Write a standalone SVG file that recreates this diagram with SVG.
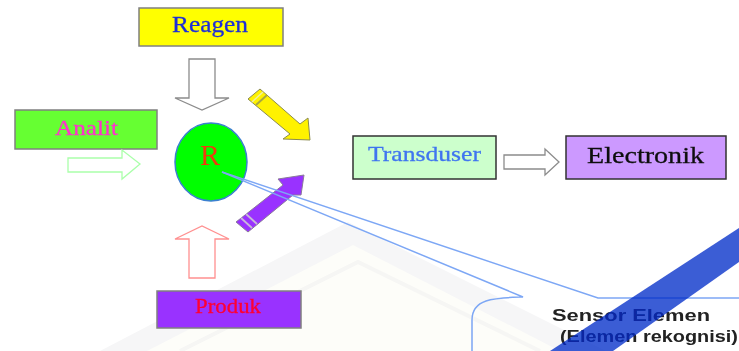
<svg xmlns="http://www.w3.org/2000/svg" width="739" height="351" viewBox="0 0 739 351">
<style>
text{font-family:"Liberation Serif","Times New Roman",serif;text-anchor:start;stroke-width:.3}
.box{stroke:#808080;stroke-width:1.5}
.arrow{fill:#fff;stroke-width:1.3;stroke-linejoin:miter}
.sans{font-family:"Liberation Sans",Arial,sans-serif;font-weight:bold;font-size:17px;fill:#222}
.call{fill:none;stroke:#7da7f5;stroke-width:1.5}
</style>
<defs><filter id="soft" x="-2%" y="-2%" width="104%" height="104%"><feGaussianBlur stdDeviation="0.45"/></filter></defs>
<rect width="739" height="351" fill="#fff"/>
<g id="watermark">
<path d="M100 351L348 222L620 358V351Z" fill="#f6f6f7"/>
<path d="M147 351L353 245L560 351Z" fill="#fdfdf9"/>
<path d="M180 351L358 262L540 351" fill="none" stroke="#f6f6f4" stroke-width="4"/>
</g>
<g filter="url(#soft)">
<g id="reagen"><rect class="box" x="139" y="8" width="144" height="38" fill="#ffff00"/><text x="172" y="32" font-size="23" textLength="76" lengthAdjust="spacingAndGlyphs" fill="#1f2fd8" stroke="#1f2fd8">Reagen</text></g>
<g id="analit"><rect class="box" x="15" y="110" width="142" height="39" fill="#66ff33"/><text x="55" y="135" font-size="21.5" textLength="63" lengthAdjust="spacingAndGlyphs" fill="#ff33cc" stroke="#ff33cc">Analit</text></g>
<g id="reseptor"><ellipse cx="211" cy="162" rx="36" ry="39" fill="#00ff00" stroke="#3a80d0" stroke-width="1.5"/><text x="200" y="165" font-size="30" fill="#ee3b10">R</text></g>
<g id="produk"><rect class="box" x="157" y="291" width="144" height="37" fill="#9933ff"/><text x="195" y="313" font-size="20" textLength="66" lengthAdjust="spacingAndGlyphs" fill="#ff0033" stroke="#ff0033">Produk</text></g>
<g id="transduser"><rect x="353" y="136" width="143" height="43" fill="#ccffcc" stroke="#333" stroke-width="1.5"/><text x="368" y="161" font-size="22" textLength="113" lengthAdjust="spacingAndGlyphs" fill="#3f74f0" stroke="#3f74f0">Transduser</text></g>
<g id="electronik"><rect x="566" y="136" width="160" height="43" fill="#cc99ff" stroke="#333" stroke-width="1.5"/><text x="587" y="163" font-size="24" textLength="117" lengthAdjust="spacingAndGlyphs" fill="#111" stroke="#111">Electronik</text></g>
<g id="connectors">
<path class="arrow" stroke="#8c8c8c" d="M189 59H215V98H229L202 110L175 98H189Z"/>
<path class="arrow" stroke="#aaffaa" d="M68 158H122V150L140 164L122 179V172H68Z"/>
<path class="arrow" stroke="#ff9090" d="M189 278H215V239H229L202 226L175 239H189Z"/>
<path class="arrow" stroke="#8c8c8c" d="M504 155H545V149L559 162L545 175V169H504Z"/>
<path fill="#fff200" stroke="#8a8a50" stroke-width="1" d="M310 140L308 118L300 124L260 89L248 99L290 134L283 139Z"/>
<path d="M252 102L263 92" stroke="#f0f0a0" stroke-width="1.5" fill="none"/>
<path d="M256 105L267 95" stroke="#a8a840" stroke-width="2" fill="none"/>
<path fill="#9933ff" stroke="#8a7a9a" stroke-width="1" d="M304 175L278 179L283 185L245 215L236 222L248 232L293 195L301 195Z"/>
<path d="M241 218L252 228M246 214L257 224" stroke="#c9b8d9" stroke-width="1.8" fill="none"/>
<path class="call" d="M222 172L598 298H739"/>
<path class="call" d="M222 172L523 297C495 298 472 298 472 320V351"/>
</g>
<g id="sensor-elemen">
<text class="sans" x="552" y="321" textLength="158" lengthAdjust="spacingAndGlyphs">Sensor Elemen</text>
<text class="sans" x="560" y="342" textLength="178" lengthAdjust="spacingAndGlyphs">(Elemen rekognisi)</text>
</g>
<path id="band" d="M739 228V262L613 351H550Z" fill="#002bc8" fill-opacity="0.77"/>
</g>
</svg>
